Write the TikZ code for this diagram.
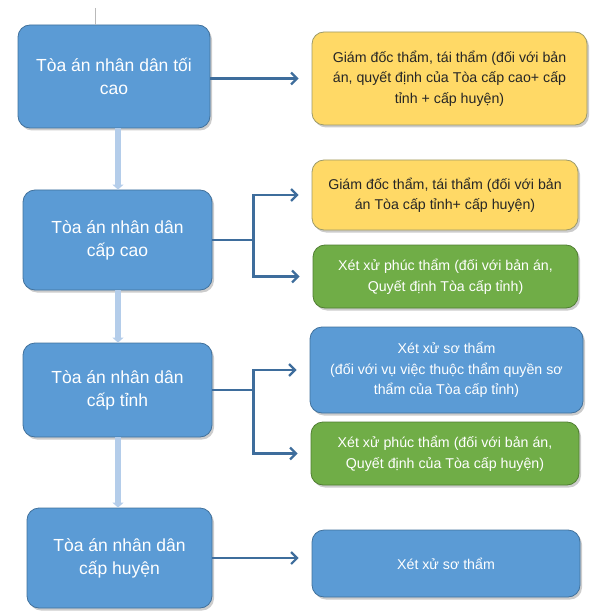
\documentclass[tikz,border=0pt]{standalone}
\usepackage{fontspec}
\setmainfont{Liberation Sans}
\usetikzlibrary{arrows.meta, shadows}

\definecolor{courtblue}{HTML}{5B9BD5}
\definecolor{courtedge}{HTML}{41719C}
\definecolor{reviewyellow}{HTML}{FFD966}
\definecolor{yellowedge}{HTML}{9C9A6A}
\definecolor{appealgreen}{HTML}{70AD47}
\definecolor{greenedge}{HTML}{507E32}
\definecolor{linkblue}{HTML}{3E6D9C}
\definecolor{stemblue}{HTML}{B4CDEA}

\begin{document}
\begin{tikzpicture}[
		x=1pt, y=-1pt,
		box/.style={rounded corners=12pt, align=center, inner sep=2pt, line width=0.8pt,
			drop shadow={shadow xshift=2pt, shadow yshift=-2.5pt, opacity=0.4}},
		court/.style={box, fill=courtblue, draw=courtedge, text=white, font=\fontsize{17.5}{23}\selectfont},
		review/.style={box, fill=reviewyellow, draw=yellowedge, text=black!85, font=\fontsize{14.2}{20.5}\selectfont},
		appeal/.style={box, fill=appealgreen, draw=greenedge, text=white, font=\fontsize{14.2}{20.5}\selectfont},
		trial/.style={box, fill=courtblue, draw=courtedge, text=white, font=\fontsize{14.2}{20.5}\selectfont},
		link/.style={linkblue, line width=2.2pt, -{Straight Barb[length=6pt, width=12pt]}, shorten >=13pt},
		stem/.style={stemblue, line width=6.5pt, -{Triangle[length=5pt, width=11pt]}}
		]
		\useasboundingbox (0,0) rectangle (601,612);
		
		% Left column: court levels
		\node[court, minimum width=192pt, minimum height=103pt] (supreme) at (114,76.5) {Tòa án nhân dân tối\\cao};
		\node[court, minimum width=189pt, minimum height=100pt] (high) at (117.5,240) {Tòa án nhân dân\\cấp cao};
		\node[court, minimum width=189pt, minimum height=94pt] (province) at (117.5,390) {Tòa án nhân dân\\cấp tỉnh};
		\node[court, minimum width=185pt, minimum height=100pt] (district) at (119.5,558) {Tòa án nhân dân\\cấp huyện};
		
		% Right column: competences
		\node[review, minimum width=275pt, minimum height=93pt] (supremeReview) at (449.5,78.5) {Giám đốc thẩm, tái thẩm (đối với bản\\án, quyết định của Tòa cấp cao+ cấp\\tỉnh + cấp huyện)};
		\node[review, minimum width=266pt, minimum height=70pt] (highReview) at (445,195) {Giám đốc thẩm, tái thẩm (đối với bản\\án Tòa cấp tỉnh+ cấp huyện)};
		\node[appeal, minimum width=265pt, minimum height=63pt] (highAppeal) at (445.5,276.5) {Xét xử phúc thẩm (đối với bản án,\\Quyết định Tòa cấp tỉnh)};
		\node[trial, minimum width=273pt, minimum height=86pt] (provinceTrial) at (446.5,370) {Xét xử sơ thẩm\\(đối với vụ việc thuộc thẩm quyền sơ\\thẩm của Tòa cấp tỉnh)};
		\node[appeal, minimum width=268pt, minimum height=63pt] (provinceAppeal) at (445,453.5) {Xét xử phúc thẩm (đối với bản án,\\Quyết định của Tòa cấp huyện)};
		\node[trial, minimum width=268pt, minimum height=67pt] (districtTrial) at (446,563.5) {Xét xử sơ thẩm};
		
		% Thin mark above the top box
		\coordinate (mark) at (95,8);
		\draw[gray!55, line width=1pt] (mark) -- (mark |- supreme.north);
		
		% Thick links down the hierarchy
		\draw[stem] (118,0 |- supreme.south) -- (118,0 |- high.north);
		\draw[stem] (118,0 |- high.south) -- (118,0 |- province.north);
		\draw[stem] (118,0 |- province.south) -- (118,0 |- district.north);
		
		% Links to competences
		\draw[link] (supreme.east |- supremeReview.west) -- (supremeReview.west);
		\draw[link] (high.east) -- ++(41,0) coordinate (highFork) |- (highReview.west);
		\draw[link] (highFork) |- (highAppeal.west);
		\draw[link] (province.east) -- ++(41,0) coordinate (provinceFork) |- (provinceTrial.west);
		\draw[link] (provinceFork) |- (provinceAppeal.west);
		\draw[link] (district.east) -- (district.east -| districtTrial.west);
		
	\end{tikzpicture}
\end{document}
